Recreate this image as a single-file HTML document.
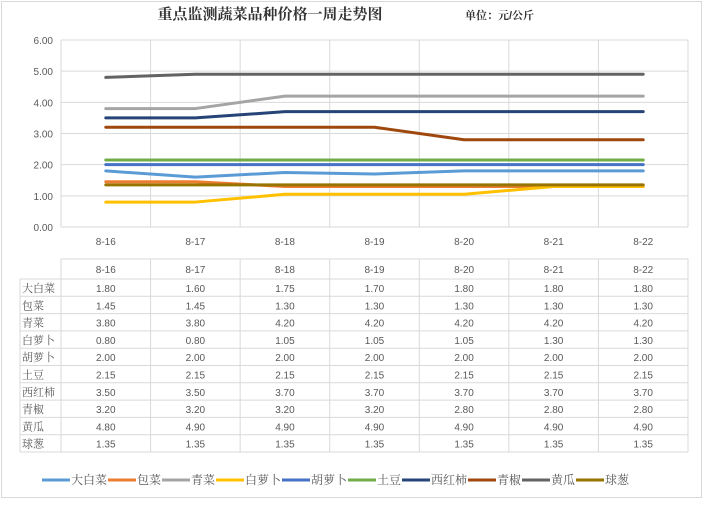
<!DOCTYPE html>
<html><head><meta charset="utf-8">
<style>
body{margin:0;width:704px;height:500px;background:#fff;font-family:"Liberation Sans","Noto Sans CJK SC",sans-serif;overflow:hidden}
svg text{font-family:"Liberation Sans","Noto Serif CJK SC","Noto Sans CJK SC",sans-serif}
</style></head><body>
<svg id="c" width="704" height="500">
<rect x="1.5" y="1.5" width="700" height="496" fill="#fff" stroke="#d9d9d9"/>
<text x="270" y="19" text-anchor="middle" font-size="15" font-weight="bold" fill="#333">重点监测蔬菜品种价格一周走势图</text>
<text x="465" y="19" text-anchor="start" font-size="11" font-weight="bold" fill="#333">单位：元/公斤</text>
<g id="grid"></g><g id="lines"></g><g id="tbl"></g><g id="leg"></g>
</svg>
<script>
const categories=["8-16","8-17","8-18","8-19","8-20","8-21","8-22"];
const seriesNames=["大白菜","包菜","青菜","白萝卜","胡萝卜","土豆","西红柿","青椒","黄瓜","球葱"];
const dabaicai=[1.80,1.60,1.75,1.70,1.80,1.80,1.80];
const baocai=[1.45,1.45,1.30,1.30,1.30,1.30,1.30];
const qingcai=[3.80,3.80,4.20,4.20,4.20,4.20,4.20];
const bailuobo=[0.80,0.80,1.05,1.05,1.05,1.30,1.30];
const huluobo=[2.00,2.00,2.00,2.00,2.00,2.00,2.00];
const tudou=[2.15,2.15,2.15,2.15,2.15,2.15,2.15];
const xihongshi=[3.50,3.50,3.70,3.70,3.70,3.70,3.70];
const qingjiao=[3.20,3.20,3.20,3.20,2.80,2.80,2.80];
const huanggua=[4.80,4.90,4.90,4.90,4.90,4.90,4.90];
const qiucong=[1.35,1.35,1.35,1.35,1.35,1.35,1.35];
const yTicks=[0,1,2,3,4,5,6];
const series=[dabaicai,baocai,qingcai,bailuobo,huluobo,tudou,xihongshi,qingjiao,huanggua,qiucong];
const colors=["#5B9BD5","#ED7D31","#A5A5A5","#FFC000","#4472C4","#70AD47","#264478","#9E480E","#636363","#997300"];
const NS="http://www.w3.org/2000/svg";
const L=61,R=688,T=40,B=227,ymax=6;
const bw=(R-L)/categories.length;
const x=i=>L+bw*(i+0.5);
const y=v=>B-(v/ymax)*(B-T);
function mk(tag,attrs,parent){const e=document.createElementNS(NS,tag);for(const k in attrs)e.setAttribute(k,attrs[k]);parent.appendChild(e);return e;}
const grid=document.getElementById('grid');
yTicks.forEach(t=>{
  const ln=mk('line',{x1:L,x2:R,y1:y(t),y2:y(t),stroke:'#d9d9d9','stroke-width':1},grid);
  
  
  const tx=mk('text',{x:L-8,y:y(t)+4,'text-anchor':'end','font-size':10,fill:'#595959'},grid);
  tx.textContent=t.toFixed(2);
  
  
});
for(let i=0;i<=categories.length;i++){
  const ln=mk('line',{x1:L+bw*i,x2:L+bw*i,y1:T,y2:B,stroke:'#d9d9d9','stroke-width':1},grid);
  
  
}
categories.forEach((c,i)=>{
  const tx=mk('text',{x:x(i),y:245,'text-anchor':'middle','font-size':10,fill:'#595959'},grid);
  tx.textContent=c;
  
  
});
const lines=document.getElementById('lines');
series.forEach((s,k)=>{
  const p=mk('polyline',{points:s.map((v,i)=>x(i)+','+y(v)).join(' '),fill:'none',stroke:colors[k],'stroke-width':3,'stroke-linejoin':'round','stroke-linecap':'round'},lines);
  
  
});
const tbl=document.getElementById('tbl');
const tT=259,hH=20,rH=17.3,tL=20;
const tB=tT+hH+rH*series.length;
mk('rect',{x:L,y:tT,width:R-L,height:hH,fill:'none',stroke:'#d9d9d9'},tbl);
for(let r=0;r<=series.length;r++){
  mk('line',{x1:tL,x2:R,y1:tT+hH+rH*r,y2:tT+hH+rH*r,stroke:'#d9d9d9'},tbl);
}
mk('line',{x1:tL,x2:tL,y1:tT+hH,y2:tB,stroke:'#d9d9d9'},tbl);
for(let i=0;i<=categories.length;i++){
  mk('line',{x1:L+bw*i,x2:L+bw*i,y1:tT,y2:tB,stroke:'#d9d9d9'},tbl);
}
categories.forEach((c,i)=>{
  const tx=mk('text',{x:x(i),y:tT+14,'text-anchor':'middle','font-size':10,fill:'#595959'},tbl);
  tx.textContent=c;
  
  
});
series.forEach((s,k)=>{
  const ry=tT+hH+rH*k+13;
  const nm=mk('text',{x:tL+2,y:ry,'font-size':11,fill:'#595959','font-family':'"Liberation Serif","Noto Serif CJK SC",serif'},tbl);
  nm.textContent=seriesNames[k];
  
  
  s.forEach((v,i)=>{
    const tx=mk('text',{x:x(i),y:ry,'text-anchor':'middle','font-size':10,fill:'#595959'},tbl);
    tx.textContent=v.toFixed(2);
    
    
  });
});
const leg=document.getElementById('leg');
let lx=42;const ly=480;
seriesNames.forEach((n,k)=>{
  const g=mk('g',{},leg);
  
  
  mk('line',{x1:lx,x2:lx+28,y1:ly,y2:ly,stroke:colors[k],'stroke-width':3},g);
  const tx=mk('text',{x:lx+29,y:ly+4,'font-size':12,fill:'#595959','font-family':'"Liberation Serif","Noto Serif CJK SC",serif'},g);
  tx.textContent=n;
  lx+=29+n.length*12+1;
});
</script>
</body></html>
